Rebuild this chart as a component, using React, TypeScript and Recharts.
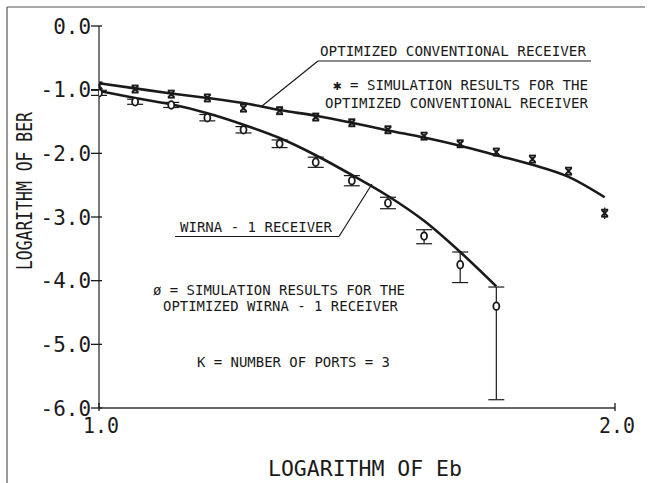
import { ComposedChart, ErrorBar, Line, Scatter, XAxis, YAxis } from "recharts";

// log Eb positions of the simulated / computed points
const logEb = [1.0, 1.07, 1.14, 1.21, 1.28, 1.35, 1.42, 1.49, 1.56, 1.63, 1.7, 1.77, 1.84, 1.91, 1.98];

// optimized conventional receiver
const convCurve = [-0.9, -0.98, -1.06, -1.13, -1.21, -1.32, -1.41, -1.52, -1.64, -1.75, -1.88, -2.03, -2.18, -2.37, -2.69];
const convSim = [-0.94, -0.99, -1.07, -1.13, -1.29, -1.33, -1.43, -1.52, -1.63, -1.73, -1.85, -1.98, -2.09, -2.28, -2.94];
const convErr = [0.03, 0.03, 0.03, 0.03, 0.03, 0.03, 0.03, 0.03, 0.03, 0.03, 0.03, 0.03, 0.03, 0.03, 0.09];

// WIRNA - 1 receiver
const wirnaCurve = [-1.02, -1.13, -1.23, -1.37, -1.55, -1.76, -2.03, -2.34, -2.67, -3.06, -3.55, -4.09];
const wirnaSim = [-1.05, -1.19, -1.24, -1.44, -1.63, -1.85, -2.14, -2.43, -2.78, -3.3, -3.75, -4.4];
const wirnaErrLow = [0.04, 0.04, 0.04, 0.05, 0.05, 0.06, 0.08, 0.08, 0.09, 0.12, 0.28, 1.47];
const wirnaErrHigh = [0.04, 0.04, 0.04, 0.05, 0.05, 0.06, 0.08, 0.08, 0.09, 0.1, 0.2, 0.3];

const yTicks = [0, -1, -2, -3, -4, -5, -6];
const xTicks = [1, 2];

const convLine = logEb.map((x, i) => ({ x, y: convCurve[i] }));
const convPts = logEb.map((x, i) => ({ x, y: convSim[i], err: convErr[i] }));
const wirnaLine = wirnaCurve.map((y, i) => ({ x: logEb[i], y }));
const wirnaPts = wirnaSim.map((y, i) => ({ x: logEb[i], y, err: [wirnaErrLow[i], wirnaErrHigh[i]] }));

const FONT = "'DejaVu Sans Mono', monospace";
const INK = "#1a1a1a";

function YTick(props: any) {
  const { x, y, payload } = props;
  const ax = x + 10;
  const label = Number(payload.value).toFixed(1);
  return (
    <g>
      <line x1={ax - 8} x2={ax + 3} y1={y} y2={y} stroke={INK} strokeWidth={1.3} />
      <text
        x={ax - 8}
        y={y}
        dy={7.5}
        textAnchor="end"
        fontFamily={FONT}
        fontSize={22}
        fill={INK}
        textLength={label.length * 12.6}
        lengthAdjust="spacingAndGlyphs"
      >
        {label}
      </text>
    </g>
  );
}

function XTick(props: any) {
  const { x, y, payload } = props;
  const ay = y - 10;
  const label = Number(payload.value).toFixed(1);
  return (
    <g>
      <line x1={x} x2={x} y1={ay - 5} y2={ay + 3} stroke={INK} strokeWidth={1.3} />
      <text
        x={x + 2}
        y={ay + 25}
        textAnchor="middle"
        fontFamily={FONT}
        fontSize={22}
        fill={INK}
        textLength={label.length * 12}
        lengthAdjust="spacingAndGlyphs"
      >
        {label}
      </text>
    </g>
  );
}

function CrossMark(props: any) {
  const { cx, cy } = props;
  if (cx == null || cy == null) return null;
  return (
    <g stroke={INK} strokeWidth={1.9}>
      <line x1={cx - 3} y1={cy - 3} x2={cx + 3} y2={cy + 3} />
      <line x1={cx - 3} y1={cy + 3} x2={cx + 3} y2={cy - 3} />
      <line x1={cx - 3.5} y1={cy - 3.5} x2={cx + 3.5} y2={cy - 3.5} />
      <line x1={cx - 3.5} y1={cy + 3.5} x2={cx + 3.5} y2={cy + 3.5} />
    </g>
  );
}

function RingMark(props: any) {
  const { cx, cy } = props;
  if (cx == null || cy == null) return null;
  return <ellipse cx={cx} cy={cy} rx={3} ry={3.8} fill="#fff" stroke={INK} strokeWidth={1.8} />;
}

function Txt({ x, y, anchor = "start", size = 14, len, children }: any) {
  return (
    <text
      x={x}
      y={y}
      textAnchor={anchor}
      fontFamily={FONT}
      fontSize={size}
      fill={INK}
      textLength={len}
      lengthAdjust="spacingAndGlyphs"
    >
      {children}
    </text>
  );
}

export default function App() {
  return (
    <div style={{ position: "absolute", left: 0, top: 0, width: 649, height: 483, background: "#fff" }}>
      <ComposedChart width={649} height={483} margin={{ top: 26, right: 34, bottom: 0, left: 0 }}>
        <XAxis
          type="number"
          dataKey="x"
          domain={[1, 2]}
          ticks={xTicks}
          height={75}
          tickSize={8}
          tickMargin={2}
          tickLine={false}
          axisLine={{ stroke: "#333", strokeWidth: 1.3 }}
          tick={XTick}
          allowDataOverflow
        />
        <YAxis
          type="number"
          dataKey="y"
          domain={[-6, 0]}
          ticks={yTicks}
          width={99}
          tickSize={8}
          tickMargin={2}
          tickLine={false}
          axisLine={{ stroke: "#333", strokeWidth: 1.3 }}
          tick={YTick}
          allowDataOverflow
        />
        <Line data={convLine} dataKey="y" type="monotone" stroke={INK} strokeWidth={2.6} dot={false} isAnimationActive={false} />
        <Line data={wirnaLine} dataKey="y" type="monotone" stroke={INK} strokeWidth={2.6} dot={false} isAnimationActive={false} />
        <Scatter data={convPts} dataKey="y" shape={CrossMark} isAnimationActive={false}>
          <ErrorBar dataKey="err" direction="y" width={0} stroke={INK} strokeWidth={1.2} />
        </Scatter>
        <Scatter data={wirnaPts} dataKey="y" shape={RingMark} isAnimationActive={false}>
          <ErrorBar dataKey="err" direction="y" width={8} stroke={INK} strokeWidth={1.2} />
        </Scatter>
      </ComposedChart>
      <svg width={649} height={483} style={{ position: "absolute", left: 0, top: 0, pointerEvents: "none" }}>
        {/* page frame */}
        <line x1={7} y1={7} x2={645} y2={7} stroke="#555" strokeWidth={1.2} />
        <line x1={7} y1={7} x2={7} y2={483} stroke="#555" strokeWidth={1.2} />

        {/* conventional receiver callout */}
        <line x1={262} y1={106} x2={318} y2={61} stroke={INK} strokeWidth={1.2} />
        <line x1={318} y1={61} x2={591} y2={61} stroke={INK} strokeWidth={1.2} />
        <Txt x={320} y={56} len={266}>OPTIMIZED CONVENTIONAL RECEIVER</Txt>
        <Txt x={588} y={90} anchor="end" len={255}>✱ = SIMULATION RESULTS FOR THE</Txt>
        <Txt x={588} y={108} anchor="end" len={263}>OPTIMIZED CONVENTIONAL RECEIVER</Txt>

        {/* WIRNA callout */}
        <line x1={372} y1={184} x2={339} y2={236.5} stroke={INK} strokeWidth={1.2} />
        <line x1={175} y1={236.5} x2={339} y2={236.5} stroke={INK} strokeWidth={1.2} />
        <Txt x={180} y={232} len={152}>WIRNA - 1 RECEIVER</Txt>
        <Txt x={405} y={295} anchor="end" len={252}>ø = SIMULATION RESULTS FOR THE</Txt>
        <Txt x={398} y={311} anchor="end" len={235}>OPTIMIZED WIRNA - 1 RECEIVER</Txt>
        <Txt x={390} y={367} anchor="end" len={193}>K = NUMBER OF PORTS = 3</Txt>

        {/* axis titles */}
        <Txt x={365} y={476} anchor="middle" size={22} len={194}>LOGARITHM OF Eb</Txt>
        <g transform="translate(32 191) rotate(-90)">
          <Txt x={0} y={0} anchor="middle" size={21} len={158}>LOGARITHM OF BER</Txt>
        </g>
      </svg>
    </div>
  );
}
